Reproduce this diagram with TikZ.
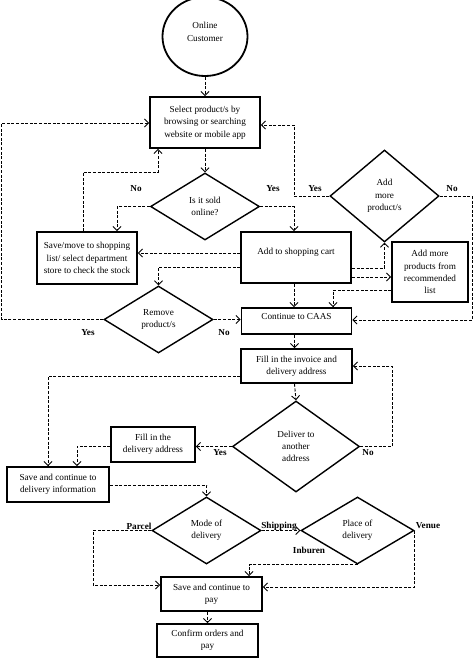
\documentclass[tikz,border=0pt]{standalone}
\usepackage{fontspec}
\setmainfont{Liberation Serif}
\usetikzlibrary{shapes.geometric,arrows.meta}
\begin{document}
\begin{tikzpicture}[x=1pt,y=-1pt,
  every node/.style={font=\fontsize{9.2}{12.3}\selectfont, align=center, inner sep=2pt},
  box/.style={draw, line width=1.8pt, rectangle},
  dia/.style={draw, line width=1.4pt, diamond, inner sep=0pt, aspect=1},
  arr/.style={line width=0.9pt, dash pattern=on 3pt off 1.6pt, -{Straight Barb[length=4pt,width=8pt]}},
  lbl/.style={font=\fontsize{9.2}{12.3}\selectfont\bfseries, inner sep=0pt}]
\useasboundingbox (0,0) rectangle (474,659);
% nodes
\node[draw, line width=1.8pt, ellipse, minimum width=85pt, minimum height=79pt, inner sep=0pt] (cust) at (205,36.5) {};
\node (custtext) at (205,32) {Online\\Customer};
\node[box, minimum width=110pt, minimum height=51pt] (sel) at (205,122.5) {Select product/s by\\browsing or searching\\website or mobile app};
\node[dia, minimum width=109pt, minimum height=67pt] (sold) at (205,206.5) {Is it sold\\online?};
\node[box, minimum width=100pt, minimum height=52pt] (save) at (87,258) {Save/move to shopping\\list/ select department\\store to check the stock};
\node[box, minimum width=110pt, minimum height=51pt] (cart) at (296,257.5) {\smash{\raisebox{3.5pt}{Add to shopping cart}}};
\node[dia, minimum width=109pt, minimum height=92pt] (addm) at (384.5,196) {Add\\more\\product/s};
\node[box, minimum width=76pt, minimum height=60pt] (addp) at (430,272) {Add more\\products from\\recommended\\list};
\node[dia, minimum width=109pt, minimum height=67pt] (rem) at (158.5,319.5) {Remove\\product/s};
\node[box, minimum width=110pt, minimum height=26pt] (caas) at (296.5,321) {\smash{\raisebox{1.5pt}{Continue to CAAS}}};
\node[box, minimum width=111pt, minimum height=34pt] (inv) at (296.5,366) {Fill in the invoice and\\delivery address};
\node[dia, minimum width=127pt, minimum height=91pt] (deliv) at (296,446.5) {Deliver to\\another\\address};
\node[box, minimum width=84pt, minimum height=35pt] (filld) at (153,444.5) {Fill in the\\delivery address};
\node[box, minimum width=102pt, minimum height=35pt] (savd) at (58,484.5) {Save and continue to\\delivery information};
\node[dia, minimum width=109pt, minimum height=67pt] (mode) at (206.5,530.5) {Mode of\\delivery};
\node[dia, minimum width=113pt, minimum height=67pt] (place) at (357.5,530.5) {Place of\\delivery};
\node[box, minimum width=101pt, minimum height=34pt] (pay) at (211.5,594) {Save and continue to\\pay};
\node[box, minimum width=101pt, minimum height=33pt] (conf) at (207.5,640.5) {Confirm orders and\\pay};
% labels
\node[lbl] (l1) at (136,189) {No};
\node[lbl] (l2) at (273,189) {Yes};
\node[lbl] (l3) at (315,189) {Yes};
\node[lbl] (l4) at (452,189) {No};
\node[lbl] (l5) at (88,333) {Yes};
\node[lbl] (l6) at (224,333) {No};
\node[lbl] (l7) at (220,453) {Yes};
\node[lbl] (l8) at (368,453) {No};
\node[lbl] (l9) at (139,526) {Parcel};
\node[lbl] (l10) at (279,526) {Shipping};
\node[lbl] (l11) at (428,526) {Venue};
\node[lbl] (l12) at (309,550) {Inburen};
% connectors
\draw[arr] (cust) -- (sel);
\draw[arr] (sel) -- (sold);
\draw[arr] ([xshift=-4pt]save.north) |- (158,172) -- (sel.south -| 158,0);
\draw[arr] (sold.west) -| ([xshift=30pt]save.north);
\draw[arr] (sold.east) -| ([xshift=-2pt]cart.north);
\draw[arr] ([yshift=4.5pt]cart.west) -- (save.east |- 0,253);
\draw[arr] ([yshift=-9.5pt]cart.west) -| (rem.north);
\draw[arr] ([yshift=-10.5pt]cart.east) -| (addm.south);
\draw[arr] ([yshift=-19.5pt]cart.east) -- (addp.west |- 0,277);
\draw[arr] ([xshift=-2pt]cart.south) -- (caas.north -| 294,0);
\draw[arr] (addp.west |- 0,290) -| (caas.north -| 333,0);
\draw[arr] (addm.east) -- (472,196) -- (472,320) -- (caas.east |- 0,320);
\draw[arr] (addm.west) -- (294,196) -- (294,125) -- (sel.east |- 0,125);
\draw[arr] (rem.west) -- (1.5,319.5) -- (1.5,123) -- (sel.west |- 0,123);
\draw[arr] (rem.east) -- (caas.west |- rem.east);
\draw[arr] ([xshift=-2pt]caas.south) -- (inv.north -| 294.5,0);
\draw[arr] (inv.west |- 0,376) -| (savd.north -| 48,0);
\draw[arr] (inv.south -| 294.5,0) -- (deliv.north);
\draw[arr] (deliv.east) -- (392,446.5) -- (392,366) -- (inv.east |- 0,366);
\draw[arr] (deliv.west) -- (filld.east |- deliv.west);
\draw[arr] (filld.west |- 0,446) -| (savd.north -| 77,0);
\draw[arr] (savd.east |- 0,485) -| (mode.north);
\draw[arr] (mode.east) -- (place.west);
\draw[arr] (mode.west) -- (93,530.5) -- (93,585) -- (pay.west |- 0,585);
\draw[arr] (place.south) -| (pay.north -| 249,0);
\draw[arr] (place.east) |- (pay.east |- 0,587);
\draw[arr] (conf.north |- pay.south) -- (conf.north);
\end{tikzpicture}
\end{document}
